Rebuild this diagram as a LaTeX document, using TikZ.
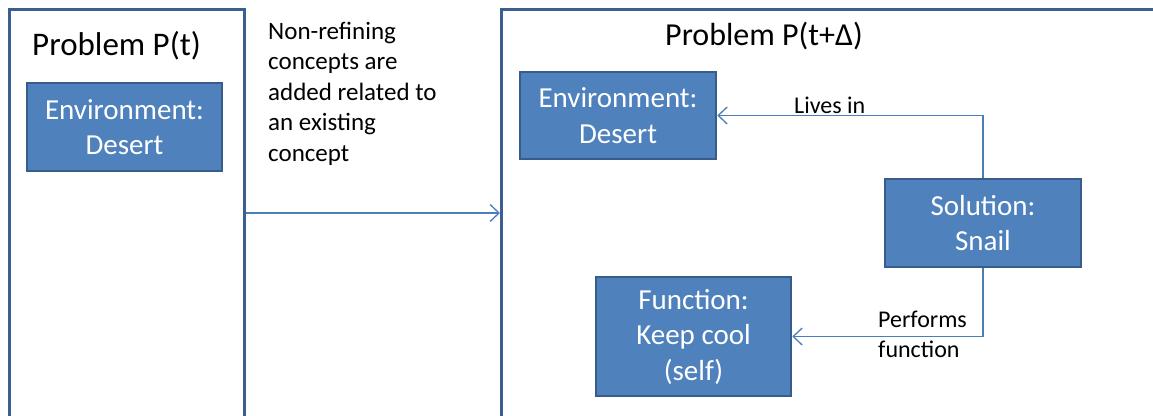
\documentclass[tikz,border=0pt]{standalone}
\usepackage{fontspec}
\setmainfont{Carlito}
\usetikzlibrary{arrows.meta}
\definecolor{boxfill}{HTML}{4F81BD}
\definecolor{boxline}{HTML}{385D8A}
\definecolor{panelc}{HTML}{3B5F8E}
\definecolor{linkc}{HTML}{4A7EBB}
\begin{document}
\begin{tikzpicture}[x=1pt,y=-1pt,
  panel/.style={draw=panelc, line width=3pt, inner sep=0pt, anchor=north west},
  concept/.style={draw=boxline, fill=boxfill, line width=2.5pt, text=white,
    font=\fontsize{29}{35.5}\selectfont, align=center, inner sep=0pt},
  link/.style={draw=linkc, line width=1.3pt,
    -{Straight Barb[length=9pt,width=17pt,line width=1.3pt]}},
  title/.style={font=\fontsize{33}{40}\selectfont, anchor=base west, inner sep=0pt},
  lbl/.style={font=\fontsize{24}{29.5}\selectfont, align=left, inner sep=0pt, anchor=base west},
  note/.style={font=\fontsize{25}{30.5}\selectfont, align=left, inner sep=0pt, anchor=base west}]
\useasboundingbox (0,0) rectangle (1153,415);
\clip (0,0) rectangle (1153,415);
\fill[white] (0,0) rectangle (1153,415);
% panels
\node[panel, minimum width=235pt, minimum height=409pt] (p1) at (8,8) {};
\node[panel, minimum width=665pt, minimum height=409pt] (p2) at (500,8) {};
\node[title] (t1) at (32,55) {Problem P(t)};
\node[title, font=\fontsize{32}{39}\selectfont] (t2) at (665,45) {Problem P(t+Δ)};
% concepts
\node[concept, minimum width=195pt, minimum height=88pt] (env1) at (124.5,127) {Environment:\\Desert};
\node[concept, minimum width=196pt, minimum height=87pt] (env2) at (618,115.5) {Environment:\\Desert};
\node[concept, minimum width=196pt, minimum height=88pt] (sol) at (983,223) {Solution:\\Snail};
\node[concept, minimum width=195pt, minimum height=119pt] (fun) at (693.5,336.5) {Function:\\Keep cool\\(self)};
% main transition
\coordinate (m) at (0,213);
\draw[link] (p1.east |- m) -- (p2.west |- m);
\node[note] (n) at (268,161) {Non-refining\\concepts are\\added related to\\an existing\\concept};
% relations
\draw[link] (sol.north) |- (env2.east);
\node[lbl] (l1) at (794,113) {Lives in};
\draw[link] (sol.south) |- (fun.east);
\node[lbl] (l2) at (878,357) {Performs\\function};
\end{tikzpicture}
\end{document}
